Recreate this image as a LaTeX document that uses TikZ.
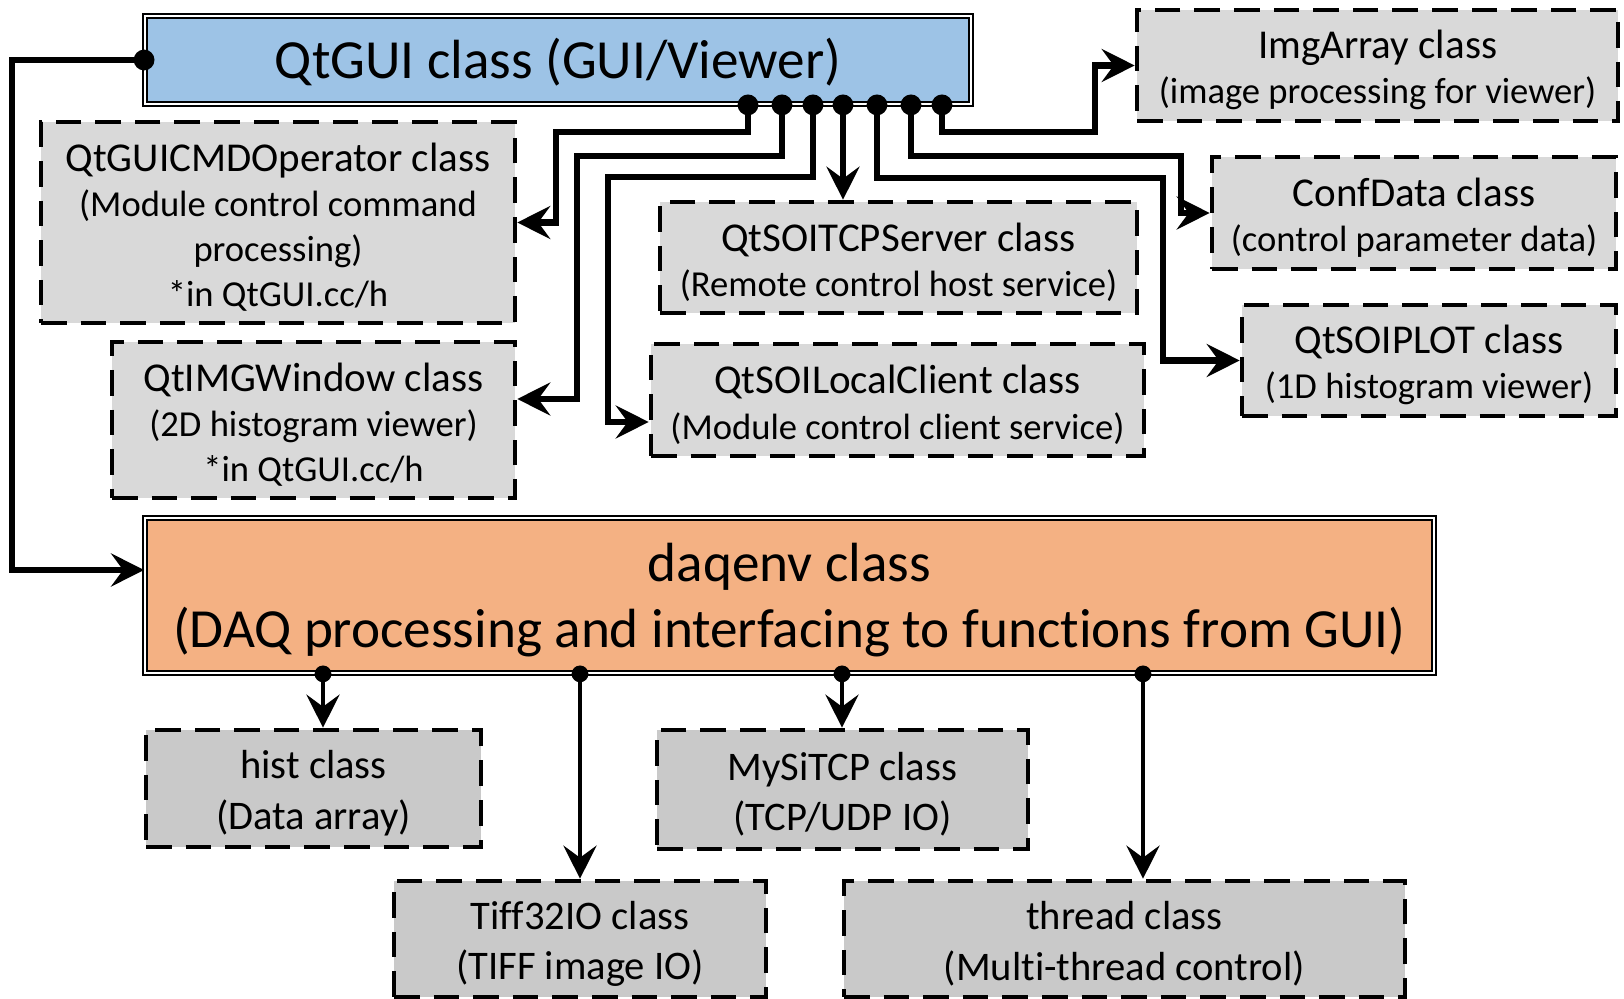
\documentclass[tikz,border=0pt]{standalone}
\usepackage{fontspec}
\setmainfont{Carlito}[Ligatures=NoCommon]
\usetikzlibrary{arrows.meta}
\definecolor{guiblue}{HTML}{9DC3E6}
\definecolor{daqorange}{HTML}{F4B183}
\definecolor{boxgray}{HTML}{D9D9D9}
\definecolor{boxgrayb}{HTML}{C9C9C9}
\newcommand{\tup}[1]{\rule{0pt}{\dimexpr\fontcharht\font`\(+#1\relax}}
\newcommand{\ttl}[1]{{\fontsize{20.5}{22.6}\selectfont\tup{4pt}#1}}
\begin{document}
\begin{tikzpicture}[x=0.5pt,y=-0.5pt,
  sz/.style 2 args={minimum width=#1*0.5pt, minimum height=#2*0.5pt},
  mainbox/.style={draw=black, line width=0.9pt, double=white, double distance=1pt, inner sep=0pt, align=center, font=\fontsize{27.6}{33}\selectfont},
  classbox/.style={draw=black, fill=boxgray, line width=2.3pt, dash pattern=on 12.8pt off 7pt, inner sep=0pt, align=center, font=\fontsize{18.3}{22.6}\selectfont},
  lowbox/.style={classbox, fill=boxgrayb, font=\fontsize{20.3}{25.3}\selectfont},
  conn/.style={line width=3.1pt, -{Stealth[length=16.5pt,width=16.5pt,inset=6pt]}},
  lowconn/.style={conn, line width=2.4pt}
]
\useasboundingbox (0,0) rectangle (1624,999);
% main boxes
\node[mainbox, fill=guiblue, sz={826}{88}] (gui) at (558,60) {\tup{2pt}QtGUI class (GUI/Viewer)};
\node[mainbox, fill=daqorange, sz={1289}{155}] (daq) at (789.5,595.5) {\tup{4pt}daqenv class\\(DAQ processing and interfacing to functions from GUI)};
% upper class boxes
\node[classbox, sz={481}{111}] (img) at (1377.5,65.5) {\ttl{ImgArray class}\\(image processing for viewer)};
\node[classbox, sz={474}{201}] (cmd) at (278,222.5) {\ttl{QtGUICMDOperator class}\\(Module control command\\processing)\\*in QtGUI.cc/h};
\node[classbox, sz={404}{112}] (conf) at (1414,213) {\ttl{ConfData class}\\(control parameter data)};
\node[classbox, sz={477}{111}] (tcp) at (898.5,257.5) {\ttl{QtSOITCPServer class}\\(Remote control host service)};
\node[classbox, sz={374}{111}] (plot) at (1429,360.5) {\ttl{QtSOIPLOT class}\\(1D histogram viewer)};
\node[classbox, sz={403}{156}] (imgw) at (313.5,420) {\ttl{QtIMGWindow class}\\(2D histogram viewer)\\*in QtGUI.cc/h};
\node[classbox, sz={493}{112}] (local) at (897.5,400) {\ttl{QtSOILocalClient class}\\(Module control client service)};
% lower class boxes
\node[lowbox, sz={335}{117}] (hist) at (313.5,788.5) {\tup{4pt}hist class\\(Data array)};
\node[lowbox, sz={371}{119}] (mysi) at (842.5,789.5) {\tup{4pt}MySiTCP class\\(TCP/UDP IO)};
\node[lowbox, sz={372}{116}] (tiff) at (580,939) {\tup{4pt}Tiff32IO class\\(TIFF image IO)};
\node[lowbox, sz={561}{116}] (thread) at (1124.5,939) {\tup{4pt}thread class\\(Multi-thread control)};
% connection points
\coordinate (d0) at (gui.west);
\coordinate (d1) at (gui.south -| 748,0);
\coordinate (d2) at (gui.south -| 782,0);
\coordinate (d3) at (gui.south -| 813,0);
\coordinate (d4) at (gui.south -| 843,0);
\coordinate (d5) at (gui.south -| 877,0);
\coordinate (d6) at (gui.south -| 911,0);
\coordinate (d7) at (gui.south -| 942,0);
\coordinate (e1) at (daq.south -| 323,0);
\coordinate (e2) at (daq.south -| 580,0);
\coordinate (e3) at (daq.south -| 842,0);
\coordinate (e4) at (daq.south -| 1143,0);
% connectors from QtGUI
\draw[conn] (d0) -| (12,570) -- (daq.west |- 0,570);
\draw[conn] (d1) |- (556,132) |- (cmd.east);
\draw[conn] (d2) |- (577,156) |- (imgw.east |- 0,399);
\draw[conn] (d3) |- (608,177) |- (local.west |- 0,422);
\draw[conn] (d4) -- (tcp.north -| d4);
\draw[conn] (d5) |- (1163,178) |- (plot.west);
\draw[conn] (d6) |- (1181,156) |- (conf.west);
\draw[conn] (d7) |- (1095,132) |- (img.west);
% connectors from daqenv
\draw[lowconn] (e1) -- (hist.north -| e1);
\draw[lowconn] (e2) -- (tiff.north -| e2);
\draw[lowconn] (e3) -- (mysi.north -| e3);
\draw[lowconn] (e4) -- (thread.north -| e4);
% dots
\foreach \p in {d0,d1,d2,d3,d4,d5,d6,d7} \fill (\p) circle[radius=5.2pt];
\foreach \p in {e1,e2,e3,e4} \fill (\p) circle[radius=4.2pt];
\end{tikzpicture}
\end{document}
